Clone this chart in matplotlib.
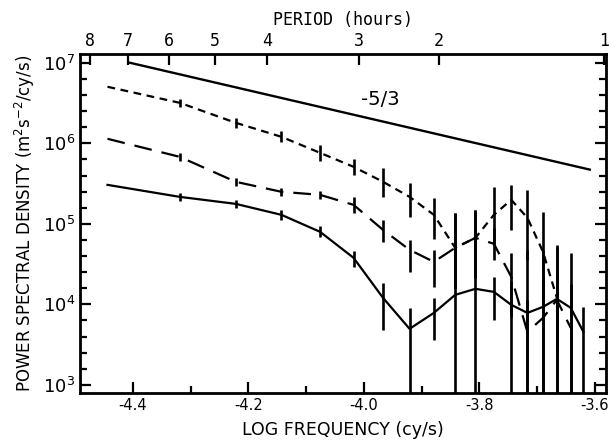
import numpy as np
import matplotlib.pyplot as plt
from matplotlib.ticker import FixedLocator, NullFormatter

plt.rcParams['axes.unicode_minus'] = False
plt.rcParams['font.family'] = 'DejaVu Sans'

# log10 of frequency (cy/s) for each spectral estimate
logf = [-4.444, -4.319, -4.222, -4.143, -4.076, -4.018, -3.967, -3.921, -3.879,
        -3.842, -3.807, -3.775, -3.745, -3.717, -3.690, -3.666, -3.642, -3.620]

# solid curve (log10 PSD) and error bar extent (decades above / below)
solid_logp = [5.484, 5.335, 5.248, 5.112, 4.901, 4.578, 4.081, 3.696, 3.894,
              4.118, 4.193, 4.155, 3.994, 3.894, 3.969, 4.068, 3.957, 3.658]
solid_hi = [0, .05, .05, .06, .07, .09, .19, .26, .19, .60, .65, .18, .30, .78, .70, .30, .30, .31]
solid_lo = [0, .05, .05, .06, .07, .12, .40, 2, .34, 2, 2, .35, 2, 2, 2, 2, 2, 2]

# long dashed curve
dash_logp = [6.056, 5.832, 5.522, 5.398, 5.360, 5.236, 4.925, 4.677, 4.528,
             4.702, 4.826, 4.752, 4.342, 3.658, 3.832, 4.056, 3.708]
dash_hi = [0, .05, .05, .05, .05, .10, .12, .12, .15, .43, .35, .20, .30, .40, .50, .66, .93]
dash_lo = [0, .05, .05, .05, .05, .10, .15, .27, .31, .50, .50, .20, .50, 2, 2, 2, 2]

# short dashed curve
dot_logp = [6.702, 6.503, 6.255, 6.081, 5.882, 5.708, 5.522, 5.335, 5.112,
            4.702, 4.826, 5.112, 5.298, 5.075, 4.652, 4.081]
dot_hi = [0, .05, .06, .07, .10, .10, .17, .17, .21, .43, .35, .35, .19, .35, .50, .65]
dot_lo = [0, .05, .06, .07, .10, .10, .19, .25, .30, .50, .50, .35, .37, .52, .60, .65]

# -5/3 reference line
ref_x = [-4.405, -3.609]
ref_start = 7.0
ref_slope = -5 / 3

# top axis: period in hours
period_pos = [-4.4745, -4.4087, -4.3377, -4.258, -4.168, -4.0087, -3.870, -3.5844]
period_labels = ['8', '7', '6', '5', '4', '3', '2', '1']

fig = plt.figure(figsize=(6.09, 4.42), dpi=100)
ax = fig.add_axes([0.131, 0.111, 0.864, 0.767])


def draw(logp, hi, lo, ls):
    x = np.array(logf[:len(logp)])
    lp = np.array(logp)
    ax.plot(x, 10 ** lp, color='k', lw=1.6, linestyle=ls)
    hi = np.array(hi)
    lo = np.array(lo)
    m = hi > 0
    ax.vlines(x[m], 10 ** (lp[m] - lo[m]), 10 ** (lp[m] + hi[m]), color='k', lw=1.9)


draw(solid_logp, solid_hi, solid_lo, '-')
draw(dash_logp, dash_hi, dash_lo, (0, (8, 4.5)))
draw(dot_logp, dot_hi, dot_lo, (0, (3.5, 2.5)))

rx = np.array(ref_x)
ax.plot(rx, 10 ** (ref_start + ref_slope * (rx - rx[0])), color='k', lw=1.7)
ax.text(-3.972, 10 ** 6.54, '-5/3', fontsize=14, ha='center', va='center')

ax.set_xlim(-4.492, -3.581)
ax.set_yscale('log')
ax.set_ylim(10 ** 2.90, 10 ** 7.11)

ax.set_xticks([-4.4, -4.2, -4.0, -3.8, -3.6])
ax.set_xticklabels(['-4.4', '-4.2', '-4.0', '-3.8', '-3.6'], fontsize=10.5)
ax.xaxis.set_minor_locator(FixedLocator([-4.3, -4.1, -3.9, -3.7]))

dec = [3, 4, 5, 6, 7]
ax.yaxis.set_major_locator(FixedLocator([10.0 ** d for d in dec]))
ax.set_yticklabels([r'$10^{%d}$' % d for d in dec], fontsize=13)
minor = [10 ** (d + s) for d in range(2, 8) for s in (0.2, 0.4, 0.6, 0.8)]
ax.yaxis.set_minor_locator(FixedLocator(minor))
ax.yaxis.set_minor_formatter(NullFormatter())

ax.tick_params(which='both', direction='in', right=True, top=False, width=1.6)
ax.tick_params(which='major', length=8)
ax.tick_params(which='minor', length=5)
for s in ax.spines.values():
    s.set_linewidth(2.0)

ax.set_xlabel('LOG FREQUENCY (cy/s)', fontsize=12.5, labelpad=6)
ax.set_ylabel(r'POWER SPECTRAL DENSITY (m$^2$s$^{-2}$/cy/s)', fontsize=12, labelpad=4)

ax2 = ax.twiny()
ax2.set_xlim(ax.get_xlim())
ax2.set_xticks(period_pos)
ax2.set_xticklabels(period_labels, fontsize=12, family='DejaVu Sans Mono')
ax2.tick_params(direction='in', length=8, width=1.6, pad=3)
ax2.set_xlabel('PERIOD (hours)', fontsize=12, family='DejaVu Sans Mono', labelpad=5)

fig.savefig('out.png', dpi=100)
